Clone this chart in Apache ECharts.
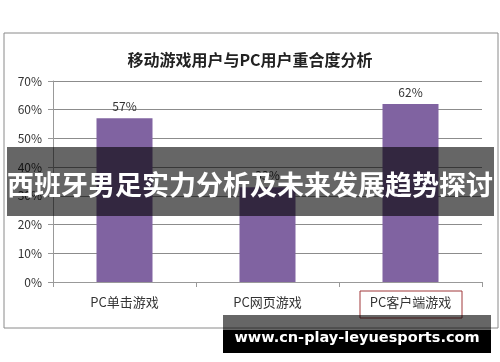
<!DOCTYPE html>
<html><head><meta charset="utf-8">
<script src="https://cdn.jsdelivr.net/npm/echarts@6/dist/echarts.min.js"></script>
<style>html,body{margin:0;padding:0;background:#fff}#c{width:500px;height:362px}</style>
</head><body><div id="c"></div>
<script>
const titleText = '移动游戏用户与PC用户重合度分析';
const categories = ['PC单击游戏', 'PC网页游戏', 'PC客户端游戏'];
const values = [57, 33, 62];
const yMin = 0, yMax = 70, yStep = 10;
const bannerText = '西班牙男足实力分析及未来发展趋势探讨';
const watermarkText = 'www.cn-play-leyuesports.com';

const F = '"Noto Sans CJK SC", "Noto Sans", sans-serif';
const chart = echarts.init(document.getElementById('c'), null, {renderer: 'canvas'});
chart.setOption({
  backgroundColor: '#fff',
  animation: false,
  title: {text: titleText, left: 'center', top: 47, textStyle: {fontFamily: F, fontSize: 16, fontWeight: 'bold', color: '#222'}},
  grid: {left: 53, right: 18, top: 81, bottom: 80},
  xAxis: {
    type: 'category', data: categories,
    axisLine: {lineStyle: {color: '#999'}},
    axisTick: {show: true, length: 5, lineStyle: {color: '#999'}},
    axisLabel: {fontFamily: F, fontSize: 13, color: '#333', margin: 14}
  },
  yAxis: {
    type: 'value', min: yMin, max: yMax, interval: yStep,
    axisLine: {show: true, lineStyle: {color: '#999'}},
    axisTick: {show: true, length: 5, lineStyle: {color: '#999'}},
    axisLabel: {fontFamily: F, fontSize: 12, color: '#333', margin: 11, formatter: '{value}%'},
    splitLine: {lineStyle: {color: '#8c8c8c'}}
  },
  series: [{
    type: 'bar', data: values, barWidth: 56,
    itemStyle: {color: '#8063A1'},
    label: {show: true, position: 'top', distance: 6, fontFamily: F, fontSize: 12, color: '#333', formatter: '{c}%'}
  }],
  graphic: [
    {type: 'rect', shape: {x: 4, y: 33, width: 494, height: 295}, style: {fill: 'none', stroke: '#8a8a8a', lineWidth: 1}, z: 1},
    {type: 'rect', shape: {x: 360, y: 291, width: 102, height: 27}, style: {fill: 'none', stroke: '#A0383A', lineWidth: 1}, z: 10},
    {type: 'rect', shape: {x: 7, y: 147, width: 487, height: 69}, style: {fill: 'rgba(0,0,0,0.6)'}, z: 100},
    {type: 'text', x: 250, y: 185, style: {text: bannerText, fill: '#fff', font: 'bold 27px ' + F, textAlign: 'center', textVerticalAlign: 'middle'}, z: 101},
    {type: 'rect', shape: {x: 223, y: 315, width: 268, height: 15}, style: {fill: 'rgba(0,0,0,0.6)'}, z: 100},
    {type: 'rect', shape: {x: 223, y: 330, width: 268, height: 23}, style: {fill: '#000'}, z: 100},
    {type: 'text', x: 357, y: 338, style: {text: watermarkText, fill: '#fff', font: 'bold 14.5px "DejaVu Sans", sans-serif', textAlign: 'center', textVerticalAlign: 'middle'}, z: 101}
  ]
});
</script></body></html>
